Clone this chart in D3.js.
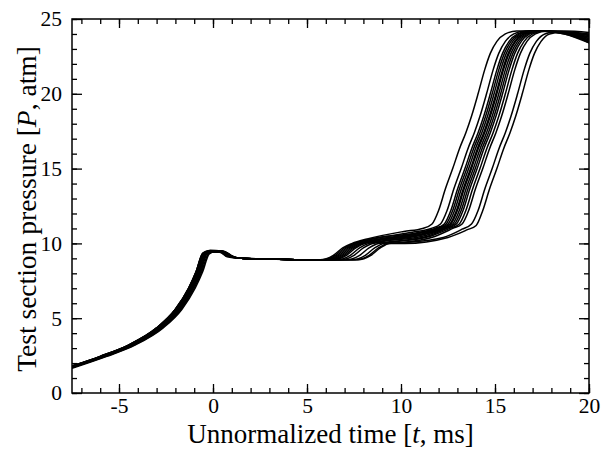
<!DOCTYPE html>
<html>
<head>
<meta charset="utf-8">
<script src="https://cdn.jsdelivr.net/npm/d3@7"></script>
<style>
  body { margin: 0; background: #fff; }
  text { font-family: "Liberation Serif", "Times New Roman", serif; fill: #000; }
</style>
</head>
<body>
<div id="chart"></div>
<script>
// pressure traces [t (ms), P (atm)]
const run01 = [[-7.5,1.8],[-6,2.45],[-4.5,3.2],[-3,4.35],[-2,5.6],[-1.3,7.0],[-0.9,8.1],[-0.55,9.35],[-0.25,9.5],[0.35,9.5],[0.75,9.2],[1.5,9.0],[3,8.95],[5,8.9],
  [5.7,8.9],[6.4,9.2],[6.9,9.7],[7.4,10.0],[8.2,10.3],[10.15,10.8],[11.15,11.0],[11.65,11.3],[12.0,12.2],[12.35,13.6],[12.75,15.0],[13.1,16.3],[13.45,17.4],[13.75,18.5],[14.1,20.0],[14.45,21.6],[14.75,22.7],[15.1,23.5],[15.55,24.0],[16.15,24.2],[18.7,24.15],[20,24.0]];
const run02 = [[-7.5,1.75],[-5.95,2.45],[-4.45,3.2],[-2.95,4.35],[-1.95,5.6],[-1.25,7.0],[-0.85,8.1],[-0.5,9.3],[-0.2,9.45],[0.4,9.45],[0.8,9.15],[1.5,9.0],[3,8.95],[5,8.9],
  [5.8,8.9],[6.5,9.2],[7.0,9.7],[7.5,10.0],[8.3,10.25],[10.6,10.75],[11.6,11.0],[12.1,11.3],[12.45,12.2],[12.8,13.6],[13.2,15.0],[13.55,16.3],[13.9,17.4],[14.2,18.5],[14.55,20.0],[14.9,21.6],[15.2,22.7],[15.55,23.5],[16.0,24.0],[16.6,24.2],[18.7,24.15],[20,23.9]];
const run03 = [[-7.5,1.75],[-5.9,2.45],[-4.4,3.2],[-2.9,4.35],[-1.9,5.6],[-1.2,7.0],[-0.8,8.1],[-0.45,9.35],[-0.15,9.55],[0.45,9.5],[0.85,9.2],[1.5,9.0],[3,8.95],[5,8.9],
  [5.9,8.9],[6.6,9.2],[7.1,9.7],[7.6,10.0],[8.4,10.3],[10.8,10.7],[11.8,11.0],[12.3,11.3],[12.65,12.2],[13.0,13.6],[13.4,15.0],[13.75,16.3],[14.1,17.4],[14.4,18.5],[14.75,20.0],[15.1,21.6],[15.4,22.7],[15.75,23.5],[16.2,24.0],[16.8,24.2],[18.7,24.2],[20,24.1]];
const run04 = [[-7.5,1.8],[-6,2.45],[-4.5,3.2],[-3,4.35],[-2,5.6],[-1.3,7.0],[-0.9,8.1],[-0.55,9.3],[-0.25,9.45],[0.35,9.4],[0.75,9.15],[1.5,9.0],[3,8.95],[5,8.9],
  [6.0,8.9],[6.7,9.2],[7.2,9.7],[7.7,10.0],[8.5,10.2],[10.9,10.65],[11.9,11.0],[12.4,11.3],[12.75,12.2],[13.1,13.6],[13.5,15.0],[13.85,16.3],[14.2,17.4],[14.5,18.5],[14.85,20.0],[15.2,21.6],[15.5,22.7],[15.85,23.5],[16.3,24.0],[16.9,24.2],[18.7,24.1],[20,23.8]];
const run05 = [[-7.5,1.75],[-5.85,2.45],[-4.35,3.2],[-2.85,4.35],[-1.85,5.6],[-1.15,7.0],[-0.75,8.1],[-0.4,9.35],[-0.1,9.5],[0.5,9.5],[0.9,9.15],[1.5,9.0],[3,8.95],[5,8.9],
  [6.1,8.9],[6.8,9.2],[7.3,9.7],[7.8,10.0],[8.6,10.25],[11.0,10.7],[12.0,11.0],[12.5,11.3],[12.85,12.2],[13.2,13.6],[13.6,15.0],[13.95,16.3],[14.3,17.4],[14.6,18.5],[14.95,20.0],[15.3,21.6],[15.6,22.7],[15.95,23.5],[16.4,24.0],[17.0,24.2],[18.7,24.1],[20,23.7]];
const run06 = [[-7.5,1.8],[-5.95,2.45],[-4.45,3.2],[-2.95,4.35],[-1.95,5.6],[-1.25,7.0],[-0.85,8.1],[-0.5,9.35],[-0.2,9.5],[0.4,9.45],[0.8,9.2],[1.5,9.0],[3,8.95],[5,8.9],
  [6.2,8.9],[6.9,9.2],[7.4,9.7],[7.9,10.0],[8.7,10.2],[11.1,10.6],[12.1,11.0],[12.6,11.3],[12.95,12.2],[13.3,13.6],[13.7,15.0],[14.05,16.3],[14.4,17.4],[14.7,18.5],[15.05,20.0],[15.4,21.6],[15.7,22.7],[16.05,23.5],[16.5,24.0],[17.1,24.2],[18.7,24.15],[20,23.9]];
const run07 = [[-7.5,1.75],[-5.9,2.45],[-4.4,3.2],[-2.9,4.35],[-1.9,5.6],[-1.2,7.0],[-0.8,8.1],[-0.45,9.3],[-0.15,9.45],[0.45,9.45],[0.85,9.15],[1.5,9.0],[3,8.95],[5,8.9],
  [6.3,8.9],[7.0,9.2],[7.5,9.7],[8.0,10.0],[8.8,10.2],[11.15,10.65],[12.15,11.0],[12.65,11.3],[13.0,12.2],[13.35,13.6],[13.75,15.0],[14.1,16.3],[14.45,17.4],[14.75,18.5],[15.1,20.0],[15.45,21.6],[15.75,22.7],[16.1,23.5],[16.55,24.0],[17.15,24.2],[18.7,24.05],[20,23.6]];
const run08 = [[-7.5,1.7],[-5.8,2.45],[-4.3,3.2],[-2.8,4.35],[-1.8,5.6],[-1.1,7.0],[-0.7,8.1],[-0.35,9.35],[-0.05,9.5],[0.55,9.5],[0.95,9.2],[1.5,9.0],[3,8.95],[5,8.9],
  [6.4,8.9],[7.1,9.2],[7.6,9.7],[8.1,10.0],[8.9,10.15],[11.25,10.6],[12.25,11.0],[12.75,11.3],[13.1,12.2],[13.45,13.6],[13.85,15.0],[14.2,16.3],[14.55,17.4],[14.85,18.5],[15.2,20.0],[15.55,21.6],[15.85,22.7],[16.2,23.5],[16.65,24.0],[17.25,24.2],[18.7,24.1],[20,23.8]];
const run09 = [[-7.5,1.8],[-6,2.45],[-4.5,3.2],[-3,4.35],[-2,5.6],[-1.3,7.0],[-0.9,8.1],[-0.55,9.3],[-0.25,9.45],[0.35,9.45],[0.75,9.1],[1.5,9.0],[3,8.95],[5,8.9],
  [6.6,8.9],[7.3,9.2],[7.8,9.7],[8.3,10.0],[9.1,10.15],[11.35,10.55],[12.35,11.0],[12.85,11.3],[13.2,12.2],[13.55,13.6],[13.95,15.0],[14.3,16.3],[14.65,17.4],[14.95,18.5],[15.3,20.0],[15.65,21.6],[15.95,22.7],[16.3,23.5],[16.75,24.0],[17.35,24.2],[18.7,24.0],[20,23.5]];
const run10 = [[-7.5,1.7],[-5.75,2.45],[-4.25,3.2],[-2.75,4.35],[-1.75,5.6],[-1.05,7.0],[-0.65,8.1],[-0.3,9.35],[0,9.5],[0.6,9.45],[1.0,9.15],[1.5,9.0],[3,8.95],[5,8.9],
  [6.8,8.9],[7.5,9.2],[8.0,9.7],[8.5,10.0],[9.3,10.1],[11.45,10.5],[12.45,11.0],[12.95,11.3],[13.3,12.2],[13.65,13.6],[14.05,15.0],[14.4,16.3],[14.75,17.4],[15.05,18.5],[15.4,20.0],[15.75,21.6],[16.05,22.7],[16.4,23.5],[16.85,24.0],[17.45,24.2],[18.7,24.1],[20,23.7]];
const run11 = [[-7.5,1.75],[-5.9,2.45],[-4.4,3.2],[-2.9,4.35],[-1.9,5.6],[-1.2,7.0],[-0.8,8.1],[-0.45,9.3],[-0.15,9.5],[0.45,9.5],[0.85,9.2],[1.5,9.0],[3,8.95],[5,8.9],
  [7.1,8.9],[7.8,9.2],[8.3,9.7],[8.8,10.0],[9.6,10.1],[11.6,10.5],[12.6,11.0],[13.1,11.3],[13.45,12.2],[13.8,13.6],[14.2,15.0],[14.55,16.3],[14.9,17.4],[15.2,18.5],[15.55,20.0],[15.9,21.6],[16.2,22.7],[16.55,23.5],[17.0,24.0],[17.6,24.2],[18.7,24.0],[20,23.4]];
const run12 = [[-7.5,1.7],[-5.7,2.45],[-4.2,3.2],[-2.7,4.35],[-1.7,5.6],[-1.0,7.0],[-0.6,8.1],[-0.25,9.3],[0.05,9.45],[0.65,9.4],[1.05,9.1],[1.6,9.0],[3,8.95],[5,8.9],
  [7.4,8.9],[8.1,9.2],[8.6,9.7],[9.1,10.0],[9.9,10.05],[11.75,10.45],[12.75,11.0],[13.25,11.3],[13.6,12.2],[13.95,13.6],[14.35,15.0],[14.7,16.3],[15.05,17.4],[15.35,18.5],[15.7,20.0],[16.05,21.6],[16.35,22.7],[16.7,23.5],[17.15,24.0],[17.75,24.2],[18.8,24.05],[20,23.6]];
const run13 = [[-7.5,1.7],[-5.8,2.45],[-4.3,3.2],[-2.8,4.35],[-1.8,5.6],[-1.1,7.0],[-0.7,8.1],[-0.35,9.3],[-0.05,9.45],[0.55,9.45],[0.95,9.15],[1.5,9.0],[3,8.95],[5,8.9],
  [7.6,8.9],[8.3,9.2],[8.8,9.7],[9.3,10.0],[10.1,10.05],[12.25,10.4],[13.25,10.95],[13.75,11.3],[14.1,12.2],[14.45,13.6],[14.85,15.0],[15.2,16.3],[15.55,17.4],[15.85,18.5],[16.2,20.0],[16.55,21.6],[16.85,22.7],[17.2,23.5],[17.65,24.0],[18.25,24.15],[20,23.5]];
const run14 = [[-7.5,1.65],[-5.65,2.45],[-4.15,3.2],[-2.65,4.35],[-1.65,5.6],[-0.95,7.0],[-0.55,8.1],[-0.2,9.3],[0.1,9.45],[0.7,9.4],[1.1,9.1],[1.7,9.0],[3,8.95],[5,8.9],
  [7.7,8.9],[8.4,9.2],[8.9,9.7],[9.4,10.0],[10.2,10.0],[12.5,10.4],[13.5,10.9],[14.0,11.2],[14.35,12.2],[14.7,13.6],[15.1,15.0],[15.45,16.3],[15.8,17.4],[16.1,18.5],[16.45,20.0],[16.8,21.6],[17.1,22.7],[17.45,23.5],[17.9,24.0],[18.5,24.1],[20,23.4]];
const runs = [run01, run02, run03, run04, run05, run06, run07, run08, run09, run10, run11, run12, run13, run14];

const xTicks = [-5, 0, 5, 10, 15, 20];
const yTicks = [0, 5, 10, 15, 20, 25];
const xMinor = d3.range(-7, 21, 1);
const yMinor = d3.range(0, 26, 1);

const W = 603, H = 450;
const margin = { top: 19, right: 14, bottom: 57, left: 72 };
const width = W - margin.left - margin.right;
const height = H - margin.top - margin.bottom;

const x = d3.scaleLinear().domain([-7.5, 20]).range([0, width]);
const y = d3.scaleLinear().domain([0, 25]).range([height, 0]);

const svg = d3.select('#chart').append('svg')
	.attr('width', W)
	.attr('height', H);

const g = svg.append('g').attr('transform', 'translate(' + margin.left + ',' + margin.top + ')');

// clip traces to the frame
g.append('clipPath').attr('id', 'clip')
	.append('rect').attr('width', width).attr('height', height);

const line = d3.line()
	.x(d => x(d[0]))
	.y(d => y(d[1]))
	.curve(d3.curveMonotoneX);

g.append('g').attr('clip-path', 'url(#clip)')
	.selectAll('path').data(runs).enter().append('path')
	.attr('d', line)
	.attr('fill', 'none')
	.attr('stroke', '#000')
	.attr('stroke-width', 1.5);

// axes, ticks pointing inward on all four sides
const plain = d => String(d);

function styleAxis(sel) {
	sel.select('.domain').remove();
	sel.selectAll('line').attr('stroke', '#000').attr('stroke-width', 1.3);
	sel.selectAll('text').style('font-size', '21.5px').style('font-family', '"Liberation Serif", serif');
}

g.append('g').attr('transform', 'translate(0,' + height + ')')
	.call(d3.axisBottom(x).tickValues(xMinor).tickSize(-5).tickFormat(''))
	.call(styleAxis);
g.append('g').attr('transform', 'translate(0,' + height + ')')
	.call(d3.axisBottom(x).tickValues(xTicks).tickSize(-9).tickPadding(5).tickFormat(plain))
	.call(styleAxis);
g.append('g')
	.call(d3.axisTop(x).tickValues(xMinor).tickSize(-5).tickFormat(''))
	.call(styleAxis);
g.append('g')
	.call(d3.axisTop(x).tickValues(xTicks).tickSize(-9).tickFormat(''))
	.call(styleAxis);

g.append('g')
	.call(d3.axisLeft(y).tickValues(yMinor).tickSize(-5).tickFormat(''))
	.call(styleAxis);
g.append('g')
	.call(d3.axisLeft(y).tickValues(yTicks).tickSize(-10).tickPadding(10).tickFormat(plain))
	.call(styleAxis);
g.append('g').attr('transform', 'translate(' + width + ',0)')
	.call(d3.axisRight(y).tickValues(yMinor).tickSize(-5).tickFormat(''))
	.call(styleAxis);
g.append('g').attr('transform', 'translate(' + width + ',0)')
	.call(d3.axisRight(y).tickValues(yTicks).tickSize(-10).tickFormat(''))
	.call(styleAxis);

g.append('rect')
	.attr('width', width).attr('height', height)
	.attr('fill', 'none').attr('stroke', '#000').attr('stroke-width', 1.5);

// axis titles
const xt = svg.append('text')
	.attr('x', margin.left + width / 2).attr('y', 443)
	.attr('text-anchor', 'middle')
	.style('font-size', '27px');
xt.append('tspan').text('Unnormalized time [');
xt.append('tspan').style('font-style', 'italic').text('t');
xt.append('tspan').text(', ms]');

const yt = svg.append('text')
	.attr('transform', 'translate(36,209) rotate(-90)')
	.attr('text-anchor', 'middle')
	.style('font-size', '27.5px');
yt.append('tspan').text('Test section pressure [');
yt.append('tspan').style('font-style', 'italic').text('P');
yt.append('tspan').text(', atm]');
</script>
</body>
</html>
